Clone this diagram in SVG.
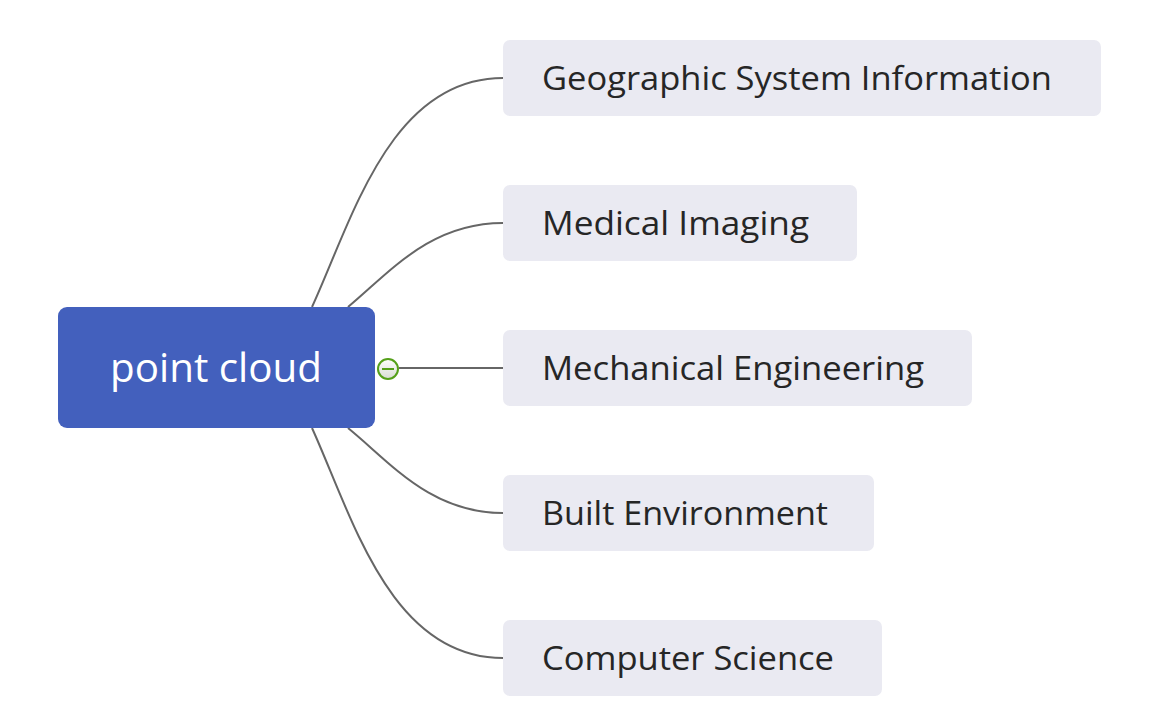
<svg xmlns="http://www.w3.org/2000/svg" width="1160" height="728" viewBox="0 0 1160 728">
<defs>
<linearGradient id="cg" x1="0" y1="0" x2="0" y2="1"><stop offset="0" stop-color="#ffffff"/><stop offset="1" stop-color="#d8dcd4"/></linearGradient>
<style>
.child rect{fill:#EAEAF2;}
.child text{font-family:"Open Sans","Noto Sans",sans-serif;font-size:33px;fill:#262626;}
.conn path{fill:none;stroke:#666666;stroke-width:2;}
</style>
</defs>
<rect width="1160" height="728" fill="#ffffff"/>
<g id="connectors" class="conn">
<path d="M312 307 C352 220 390 78 503 78"/>
<path d="M348 307 C390 272 430 223 503 223"/>
<path d="M399 368 L503 368"/>
<path d="M348 428 C390 462 430 513 503 513"/>
<path d="M312 428 C352 516 390 658 503 658"/>
</g>
<g id="root">
<rect x="58" y="307" width="317" height="121" rx="9" fill="#4360BD"/>
<text x="110" y="382" textLength="212" lengthAdjust="spacingAndGlyphs" font-family="'Open Sans','Noto Sans',sans-serif" font-size="40" fill="#ffffff">point cloud</text>
</g>
<g id="collapse">
<circle cx="388" cy="369" r="10" fill="url(#cg)" stroke="#55A01A" stroke-width="2"/>
<line x1="382" y1="369" x2="394" y2="369" stroke="#55A01A" stroke-width="2"/>
</g>
<g id="n1" class="child"><rect x="503" y="40" width="598" height="76" rx="7"/><text x="542" y="90" textLength="510" lengthAdjust="spacingAndGlyphs">Geographic System Information</text></g>
<g id="n2" class="child"><rect x="503" y="185" width="354" height="76" rx="7"/><text x="542" y="235" textLength="267" lengthAdjust="spacingAndGlyphs">Medical Imaging</text></g>
<g id="n3" class="child"><rect x="503" y="330" width="469" height="76" rx="7"/><text x="542" y="380" textLength="382" lengthAdjust="spacingAndGlyphs">Mechanical Engineering</text></g>
<g id="n4" class="child"><rect x="503" y="475" width="371" height="76" rx="7"/><text x="542" y="525" textLength="286" lengthAdjust="spacingAndGlyphs">Built Environment</text></g>
<g id="n5" class="child"><rect x="503" y="620" width="379" height="76" rx="7"/><text x="542" y="670" textLength="292" lengthAdjust="spacingAndGlyphs">Computer Science</text></g>
</svg>
